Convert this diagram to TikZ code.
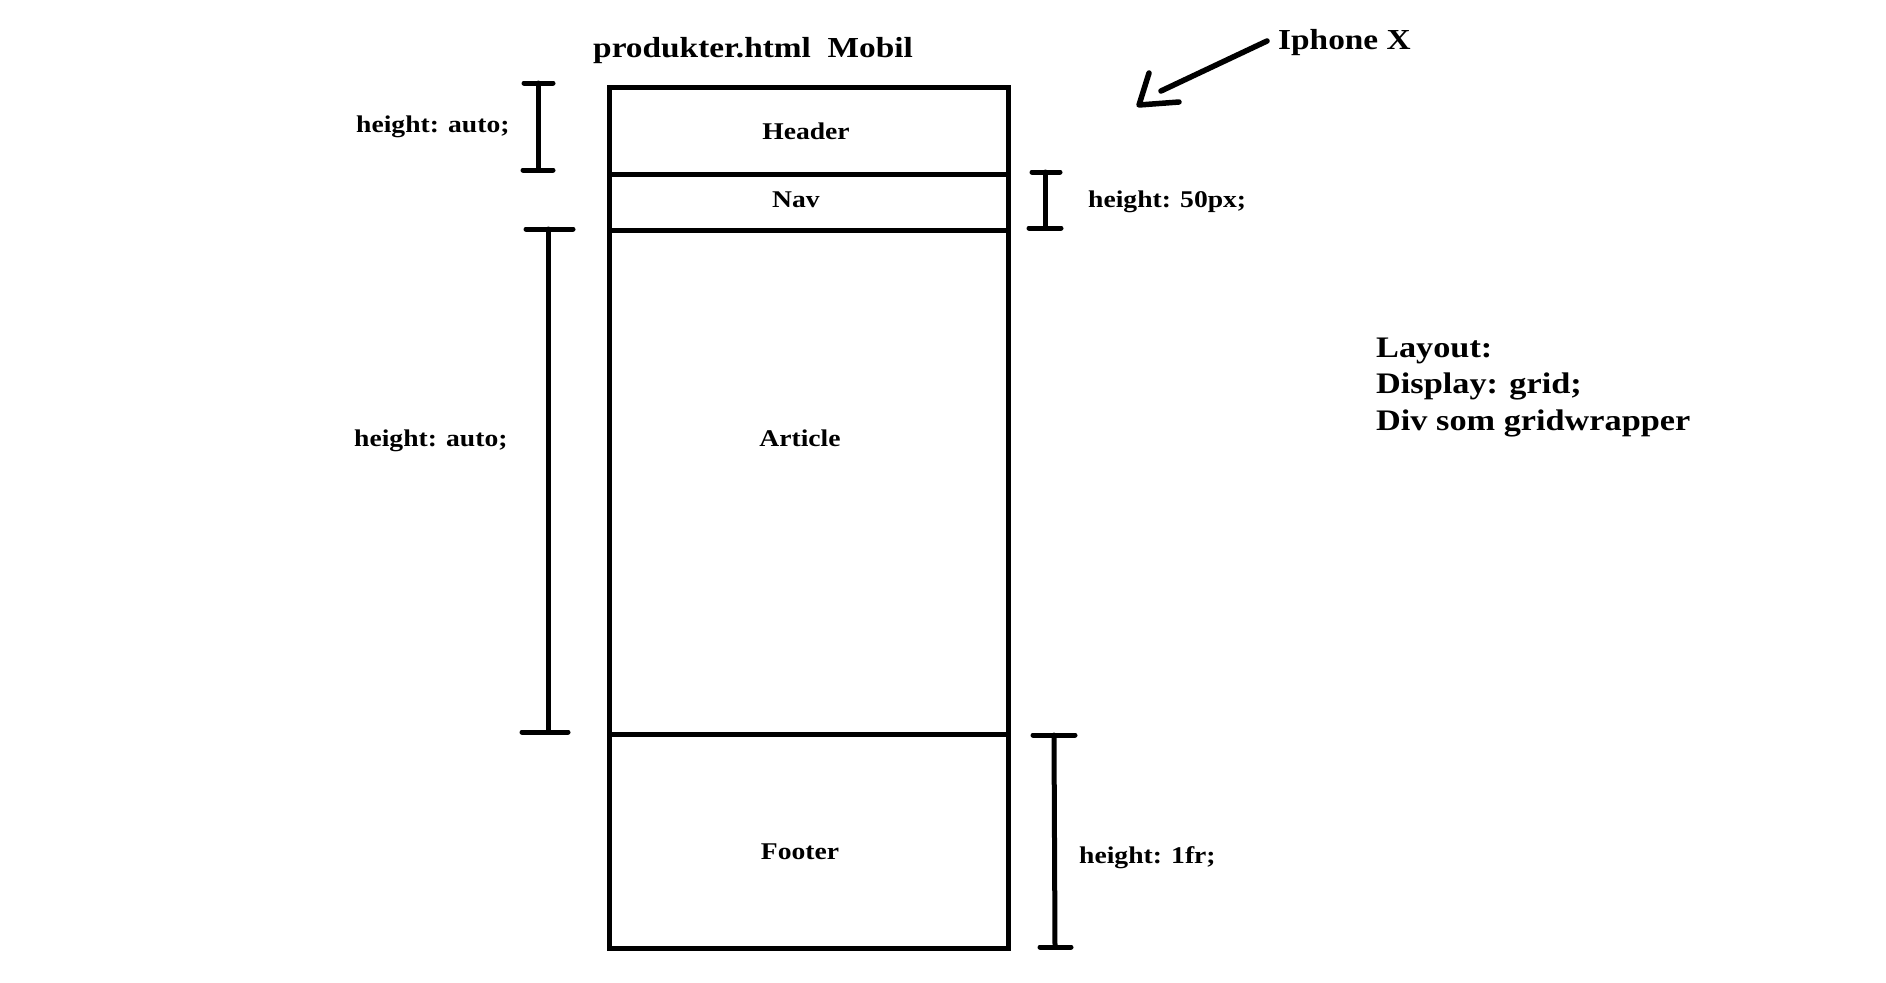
\documentclass[tikz,border=0pt]{standalone}
\usepackage{fontspec}
\setmainfont{Liberation Serif}[FakeStretch=1.15]
\begin{document}
\begin{tikzpicture}[x=1pt,y=-1pt,
  pen/.style={line width=5pt},
  capline/.style={line width=5pt,line cap=round},
  small/.style={inner sep=0pt,font=\fontsize{24}{28}\selectfont\bfseries},
  big/.style={inner sep=0pt,font=\fontsize{29}{34}\selectfont\bfseries},
  bigger/.style={inner sep=0pt,font=\fontsize{29.8}{35}\selectfont\bfseries}]
\useasboundingbox (0,0) rectangle (1886,982);

% grid wrapper with its four rows
\coordinate (tl) at (609,87);
\coordinate (br) at (1008,948);
\draw[pen] (tl) rectangle (br);
\draw[pen] (609,174) -- (1008,174);
\draw[pen] (609,230) -- (1008,230);
\draw[pen] (609,734) -- (1008,734);

% row labels
\node[small,anchor=base] (header) at (806,139) {Header};
\node[small,anchor=base] (nav) at (796,207) {Nav};
\node[small,anchor=base] (article) at (800,446) {Article};
\node[small,anchor=base] (footer) at (800,859) {Footer};

% title
\node[big,anchor=base west] (title) at (593,57) {produkter.html~ Mobil};

% height brackets
\draw[capline] (538,83) -- (538,170);
\draw[capline] (524,83) -- (553,83);
\draw[capline] (523,170) -- (553,170);

\draw[capline] (1045,172) -- (1045,228);
\draw[capline] (1032,172) -- (1060,172);
\draw[capline] (1029,228) -- (1061,228);

\draw[capline] (548,229) -- (548,732);
\draw[capline] (526,229) -- (573,229);
\draw[capline] (522,732) -- (568,732);

\draw[capline] (1054,735) -- (1055,947);
\draw[capline] (1033,735) -- (1075,735);
\draw[capline] (1040,947) -- (1071,947);

% bracket labels
\node[small,anchor=base west] (hauto1) at (356,132) {height: auto;};
\node[small,anchor=base west] (h50) at (1088,207) {height: 50px;};
\node[small,anchor=base west] (hauto2) at (354,446) {height: auto;};
\node[small,anchor=base west] (h1fr) at (1079,863) {height: 1fr;};

% device pointer
\node[big,anchor=base west] (iphone) at (1278,49) {Iphone X};
\coordinate (tail) at (1267,41);
\coordinate (shaft) at (1161,91);
\coordinate (tip) at (1139,105);
\draw[line width=5.5pt,line cap=round] (tail) -- (shaft);
\draw[line width=5.5pt,line cap=round,line join=round] (1149,73) -- (tip) -- (1179,102);

% layout notes
\node[bigger,anchor=base west] (lay1) at (1376,357) {Layout:};
\node[bigger,anchor=base west] (lay2) at (1376,393) {Display: grid;};
\node[bigger,anchor=base west] (lay3) at (1376,430) {Div som gridwrapper};
\end{tikzpicture}
\end{document}
